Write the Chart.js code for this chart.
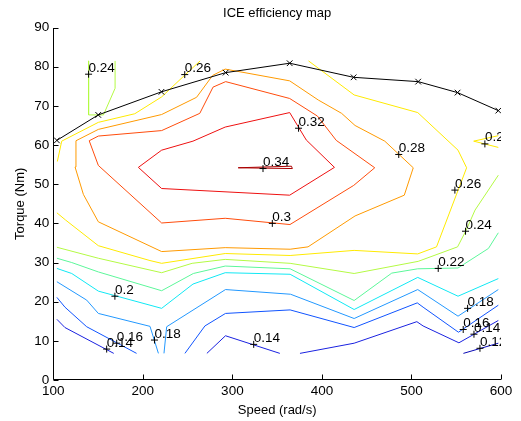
<!DOCTYPE html>
<html>
<head>
<meta charset="utf-8">
<title>ICE efficiency map</title>
<script src="https://cdn.jsdelivr.net/npm/chart.js@4.4.1/dist/chart.umd.min.js"></script>
<style>
  html, body { margin: 0; padding: 0; background: #fff; }
  #wrap { width: 521px; height: 421px; }
</style>
</head>
<body>
<div id="wrap"><canvas id="effChart" width="521" height="421"></canvas></div>
<script>
// contour levels of the efficiency map
const levels = [0.12, 0.14, 0.16, 0.18, 0.2, 0.22, 0.24, 0.26, 0.28, 0.3, 0.32, 0.34];

// each contour = list of pieces, each piece = [speed, torque] points
const contour012 = [
  [[558, 6.8], [597, 9.4]]
];
const contour014 = [
  [[104, 15.5], [113, 13.4], [167.5, 6.8]],
  [[271.5, 6.8], [292.3, 11.3], [353, 6.8]],
  [[375.5, 6.8], [436, 9.4], [506, 14.9], [513, 13.8], [553, 9.5], [597, 15.2]]
];
const contour016 = [
  [[104, 21.1], [113, 18.6], [137.3, 13.6], [193, 6.8]],
  [[247, 6.8], [269.3, 13.8], [292.3, 17.0], [364.5, 17.9], [436, 13.4], [506.5, 19.7], [513, 18.6], [552.5, 12.2], [597, 19.1]]
];
const contour018 = [
  [[104, 25.1], [137.3, 20.4], [150.3, 17.0], [208, 13.7], [217.4, 6.8]],
  [[223.6, 6.8], [226.6, 13.6], [292.3, 23.1], [365, 21.9], [436, 15.7], [507, 23.1], [552, 16.3], [597, 23.1]]
];
const contour020 = [
  [[104, 28.5], [120.6, 27.2], [150.3, 22.7], [221, 18.3], [256, 24.5], [292, 27.4], [364.5, 27.0], [436, 18.0], [507, 26.2], [552, 21.4], [597, 25.9]]
];
const contour022 = [
  [[104, 31.1], [120.6, 30.0], [150.3, 27.6], [221, 22.8], [256.4, 27.2], [292, 29.1], [364.5, 28.4], [436, 20.3], [478, 27.3], [507, 28.4], [552, 28.6], [586, 33.6], [597, 37.6]]
];
const contour024 = [
  [[104, 33.9], [150.3, 31.1], [221, 27.4], [255, 29.8], [292, 30.8], [364.5, 29.8], [436, 27.2], [507.5, 30.3], [551.5, 34.0], [561, 38.2], [571, 43.4], [597, 52.3]],
  [[139.4, 81.5], [139.4, 67.7], [156, 67.7], [169, 74.5], [169, 81.5]]
];
const contour026 = [
  [[264, 81.5], [247, 77.9], [221, 72.3], [191, 68.0], [150.3, 65.8], [109.4, 61.0], [104.5, 55.8]],
  [[104, 42.7], [114, 40.8], [150.3, 34.3], [208, 30.5], [221, 29.8], [292, 32.3], [364.5, 31.8], [436, 33.1], [507, 32.2], [528, 34.0], [561.6, 54.2], [552, 58.7], [507, 68.3], [436, 72.8], [385, 81.5]],
  [[597, 62.4], [569.5, 61.0], [597, 59.4]]
];
const contour028 = [
  [[125.3, 61.1], [150.3, 64.0], [221, 67.8], [260, 72.2], [278, 77.8], [292, 79.4], [364, 76.4], [396, 71.5], [422, 68.1], [437, 65.0], [470.2, 61.0], [502, 54.2], [492, 47.2], [437, 41.9], [384.5, 34.0], [364.5, 33.4], [292, 33.8], [221, 32.8], [150.3, 40.4], [133.6, 47.4], [124.3, 54.4], [125.3, 61.1]]
];
const contour030 = [
  [[140.1, 61.1], [150.3, 62.3], [221, 63.7], [263.6, 68.1], [278.4, 74.8], [292.5, 76.2], [364, 71.9], [395, 67.4], [416, 61.2], [459, 54.2], [435.5, 49.7], [364.3, 39.7], [292, 41.3], [221, 40.1], [150.3, 54.8], [140.1, 61.1]]
];
const contour032 = [
  [[195, 54.3], [221, 58.7], [256, 61.0], [292, 64.6], [364, 68.3], [382.5, 61.3], [414, 54.3], [364, 47.2], [221, 48.9], [195, 54.3]]
];
const contour034 = [
  [[306.5, 54.2], [366, 54.6], [367, 54.0], [306.5, 54.2]]
];

// maximum torque curve
const maxSpeed = [104, 150.2, 220.8, 292.5, 364, 435.4, 507.5, 551.5, 597];
const maxTorque = [61.2, 67.7, 73.6, 78.5, 80.9, 77.3, 76.2, 73.4, 68.8];

// contour labels (clabel)
const labelSpeed = [139.4, 246.8, 373.9, 334.2, 344.6, 485.8, 548.5, 582, 560.4, 529.9, 562.7, 557.8, 569.8, 576.5, 168.8, 170.8, 159.6, 213, 323.8];
const labelTorque = [78.1, 78.0, 64.3, 54.0, 40.0, 57.6, 48.5, 60.3, 38.0, 28.5, 18.3, 12.9, 11.7, 8.1, 21.4, 9.4, 7.9, 10.2, 9.1];
const labelText = ['0.24', '0.26', '0.32', '0.34', '0.3', '0.28', '0.26', '0.26', '0.24', '0.22', '0.18', '0.16', '0.14', '0.12', '0.2', '0.16', '0.14', '0.18', '0.14'];

const contours = [contour012, contour014, contour016, contour018, contour020, contour022,
  contour024, contour026, contour028, contour030, contour032, contour034];

// jet-like colours, one per level
const levelColors = ['#0808b4', '#1a22e0', '#1054ff', '#2298ff', '#10e8f4', '#5cf79a',
  '#b4fa44', '#ffea00', '#ff9a00', '#ff4c0c', '#ee1010', '#aa0000'];

const fontFamily = "'Liberation Sans', Arial, Helvetica, sans-serif";

function buildDatasets() {
  const datasets = [];

  // + markers of the labels, on top
  datasets.push({
    data: labelSpeed.map((s, i) => ({ x: s, y: labelTorque[i] })),
    showLine: false,
    pointStyle: 'cross',
    pointRadius: 3.5,
    pointBorderWidth: 1,
    pointBorderColor: '#000',
    order: 0
  });

  datasets.push({
    data: maxSpeed.map((s, i) => ({ x: s, y: maxTorque[i] })),
    showLine: true,
    borderColor: '#000',
    borderWidth: 1,
    pointStyle: 'crossRot',
    pointRadius: 4,
    pointBorderWidth: 1,
    pointBorderColor: '#000',
    order: 1
  });

  contours.forEach((pieces, li) => {
    pieces.forEach(piece => {
      datasets.push({
        label: String(levels[li]),
        data: piece.map(p => ({ x: p[0], y: p[1] })),
        showLine: true,
        borderColor: levelColors[li],
        borderWidth: 1,
        pointRadius: 0,
        tension: 0,
        order: 2
      });
    });
  });
  return datasets;
}

// axis lines with inward ticks and contour label texts
const axesAndLabels = {
  id: 'axesAndLabels',
  afterDatasetsDraw(chart) {
    const ctx = chart.ctx;
    const area = chart.chartArea;
    const xs = chart.scales.x;
    const ys = chart.scales.y;

    ctx.save();
    ctx.beginPath();
    ctx.rect(area.left, area.top, area.right - area.left, area.bottom - area.top);
    ctx.clip();
    ctx.fillStyle = '#000';
    ctx.font = '13.5px ' + fontFamily;
    ctx.textAlign = 'left';
    ctx.textBaseline = 'alphabetic';
    labelText.forEach((t, i) => {
      const px = xs.getPixelForValue(labelSpeed[i]);
      const py = ys.getPixelForValue(labelTorque[i]);
      ctx.fillText(t, px, py - 2.5);
    });
    ctx.restore();

    ctx.save();
    ctx.strokeStyle = '#000';
    ctx.lineWidth = 1;
    const x0 = Math.round(area.left) + 0.5;
    const y0 = Math.round(area.bottom) - 0.5;
    ctx.beginPath();
    ctx.moveTo(x0, Math.round(area.top));
    ctx.lineTo(x0, y0);
    ctx.lineTo(Math.round(area.right), y0);
    xs.ticks.forEach(t => {
      const px = Math.round(xs.getPixelForValue(t.value)) + 0.5;
      ctx.moveTo(px, y0);
      ctx.lineTo(px, y0 - 5);
    });
    ys.ticks.forEach(t => {
      const py = Math.round(ys.getPixelForValue(t.value)) + 0.5;
      ctx.moveTo(x0, py);
      ctx.lineTo(x0 + 5, py);
    });
    ctx.stroke();
    ctx.restore();
  }
};

const ctx = document.getElementById('effChart').getContext('2d');
new Chart(ctx, {
  type: 'scatter',
  data: { datasets: buildDatasets() },
  options: {
    responsive: false,
    animation: false,
    layout: { padding: { left: 0, right: 20, top: 0, bottom: 0 } },
    font: { family: fontFamily },
    plugins: {
      legend: { display: false },
      tooltip: { enabled: false },
      title: {
        display: true,
        text: 'ICE efficiency map',
        color: '#000',
        fullSize: false,
        font: { family: fontFamily, size: 13, weight: 'normal' },
        padding: { top: 6, bottom: 6 }
      }
    },
    scales: {
      x: {
        type: 'linear',
        min: 100,
        max: 600,
        grid: { display: false, drawTicks: false },
        border: { display: false },
        ticks: { stepSize: 100, color: '#000', padding: 3, font: { family: fontFamily, size: 13.5 } },
        title: {
          display: true,
          text: 'Speed (rad/s)',
          color: '#000',
          font: { family: fontFamily, size: 13 },
          padding: { top: 0, bottom: 3 }
        },
        afterFit: scale => { scale.height = 41; }
      },
      y: {
        type: 'linear',
        min: 0,
        max: 90,
        grid: { display: false, drawTicks: false },
        border: { display: false },
        ticks: { stepSize: 10, color: '#000', padding: 4, font: { family: fontFamily, size: 13.5 } },
        title: {
          display: true,
          text: 'Torque (Nm)',
          color: '#000',
          font: { family: fontFamily, size: 13 },
          padding: { top: 13, bottom: 0 }
        },
        afterFit: scale => { scale.width = 53.3; }
      }
    }
  },
  plugins: [axesAndLabels]
});
</script>
</body>
</html>
